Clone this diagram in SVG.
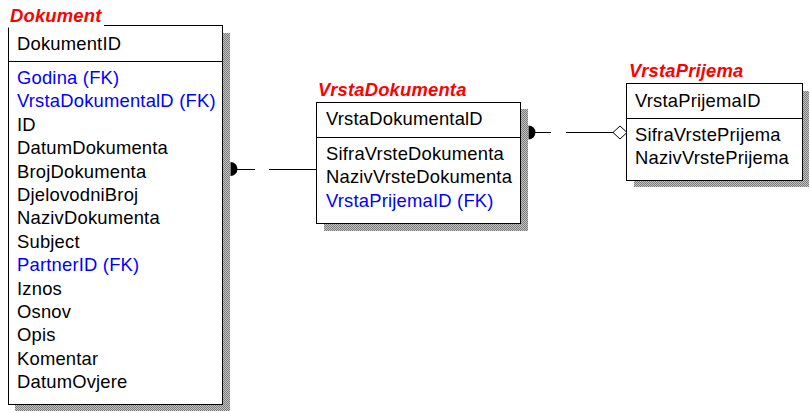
<svg xmlns="http://www.w3.org/2000/svg" width="810" height="413" viewBox="0 0 810 413">
<defs>
<pattern id="hatch" width="2" height="2" patternUnits="userSpaceOnUse">
<rect width="2" height="2" fill="#c4c4c4"/>
<rect width="1" height="1" fill="#7a7a7a"/>
<rect x="1" y="1" width="1" height="1" fill="#7a7a7a"/>
</pattern>
<style>
text{font-family:"Liberation Sans",Arial,sans-serif;font-size:18.4px;fill:#000;letter-spacing:0.2px}
.title{font-weight:bold;font-style:italic;fill:#ff0000}
.fk{fill:#0000ff}
.box{fill:#fff;stroke:#000;stroke-width:1}
.shadow{fill:url(#hatch)}
.div{stroke:#000;stroke-width:1}
.conn{stroke:#000;stroke-width:1;fill:none}
</style>
</defs>
<rect width="810" height="413" fill="#fff"/>

<g id="Dokument">
<rect class="shadow" x="15" y="33" width="215" height="378"/>
<rect class="box" x="8.5" y="25.5" width="214" height="379"/>
<line class="div" x1="8.5" y1="61.5" x2="222.5" y2="61.5"/>
<rect x="7" y="3" width="97" height="24.5" fill="#fff"/>
<text class="title" x="10" y="21.5">Dokument</text>
<text x="17" y="49.5">DokumentID</text>
<text class="fk" x="17" y="84">Godina (FK)</text>
<text class="fk" x="17" y="107.4">VrstaDokumentalD (FK)</text>
<text x="17" y="130.8">ID</text>
<text x="17" y="154.2">DatumDokumenta</text>
<text x="17" y="177.6">BrojDokumenta</text>
<text x="17" y="201">DjelovodniBroj</text>
<text x="17" y="224.4">NazivDokumenta</text>
<text x="17" y="247.8">Subject</text>
<text class="fk" x="17" y="271.2">PartnerID (FK)</text>
<text x="17" y="294.6">Iznos</text>
<text x="17" y="318">Osnov</text>
<text x="17" y="341.4">Opis</text>
<text x="17" y="364.8">Komentar</text>
<text x="17" y="388.2">DatumOvjere</text>
</g>

<g id="VrstaDokumenta">
<rect class="shadow" x="324" y="109" width="204" height="122"/>
<rect class="box" x="316.5" y="102.5" width="204" height="121"/>
<line class="div" x1="316.5" y1="137.5" x2="520.5" y2="137.5"/>
<text class="title" x="318" y="96">VrstaDokumenta</text>
<text x="326" y="125">VrstaDokumentalD</text>
<text x="326" y="160">SifraVrsteDokumenta</text>
<text x="326" y="183.2">NazivVrsteDokumenta</text>
<text class="fk" x="326" y="206.5">VrstaPrijemaID (FK)</text>
</g>

<g id="VrstaPrijema">
<rect class="shadow" x="634" y="91" width="175" height="96"/>
<rect class="box" x="626.5" y="83.5" width="176" height="97"/>
<line class="div" x1="626.5" y1="118.5" x2="802.5" y2="118.5"/>
<text class="title" x="629" y="77">VrstaPrijema</text>
<text x="635" y="106.5">VrstaPrijemaID</text>
<text x="635" y="141">SifraVrstePrijema</text>
<text x="635" y="164">NazivVrstePrijema</text>
</g>

<g id="connectors">
<path d="M230.5,162 A7,7 0 0 1 230.5,176 Z" fill="#000"/>
<path class="conn" d="M237,169.5 H255 M269,169.5 H316.5"/>
<path d="M528.5,125.5 A7,7 0 0 1 528.5,139.5 Z" fill="#000"/>
<path class="conn" d="M535,132.5 H551 M566,132.5 H613"/>
<path d="M613,132.5 L620,126 L627,132.5 L620,139 Z" fill="#fff" stroke="#000" stroke-width="1"/>
</g>
</svg>
